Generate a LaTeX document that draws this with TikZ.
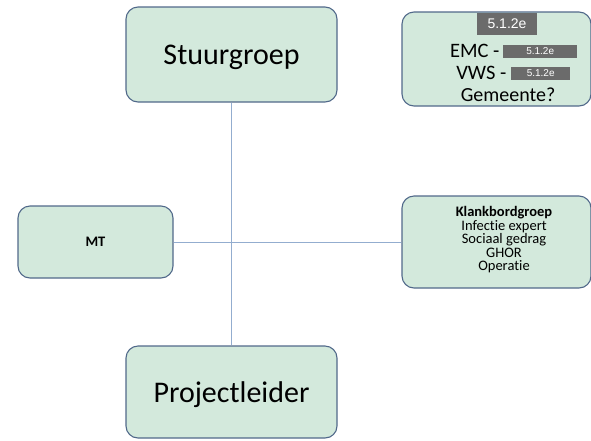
\documentclass[tikz,border=0pt]{standalone}
\usepackage{fontspec}
\setmainfont{Carlito}[Ligatures=NoCommon]
\newfontfamily\redactfont{Liberation Sans}
\usetikzlibrary{positioning}
\definecolor{boxfill}{HTML}{D3E9DC}
\definecolor{boxline}{HTML}{51698A}
\definecolor{linkline}{HTML}{93ADCF}
\definecolor{redact}{HTML}{6B6B6B}

\begin{document}
\begin{tikzpicture}[
    x=1pt, y=-1pt,
    orgbox/.style={
        draw=boxline, fill=boxfill, line width=1.1pt,
        rounded corners=12pt, inner sep=0pt
      },
    link/.style={draw=linkline, line width=0.7pt},
    redacted/.style={
        fill=redact, text=white, inner sep=0pt,
        font=\redactfont\fontsize{10}{10}\selectfont
      },
    member/.style={align=center, inner sep=0pt,
        font=\fontsize{14.5}{13.5}\selectfont}
  ]
  \useasboundingbox (0,0) rectangle (591,440);

  \node[orgbox, minimum width=211pt, minimum height=95pt, text depth=0pt,
    font=\fontsize{30}{30}\selectfont]
  (stuur) at (231.5,54.5) {Stuurgroep};

  \node[orgbox, minimum width=211pt, minimum height=92pt, text depth=0pt,
    font=\fontsize{30}{30}\selectfont]
  (project) at (231.5,392) {Projectleider};

  \node[orgbox, minimum width=155pt, minimum height=72pt,
    font=\bfseries\fontsize{14.5}{14.5}\selectfont]
  (mt) at (95.5,242) {MT};

  \node[orgbox, minimum width=189pt, minimum height=94pt]
  (partners) at (496.5,59) {};

  \node[orgbox, minimum width=189pt, minimum height=92pt]
  (klank) at (496.5,242) {};

  % lijnen
  \draw[link] (stuur) -- (project);
  \draw[link] (mt) -- (klank);

  % stuurgroep-leden
  \node[redacted, minimum width=60pt, minimum height=22pt,
    font=\redactfont\fontsize{14}{14}\selectfont]
  (red1) at (507,24) {5.1.2e};
  \node[font=\fontsize{20.5}{20.5}\selectfont, anchor=east]
  (emc) at (503,51) {EMC -};
  \node[redacted, minimum width=74pt, minimum height=13pt, right=0pt of emc]
  (red2) {5.1.2e};
  \node[font=\fontsize{20.5}{20.5}\selectfont, anchor=east]
  (vws) at (510,73) {VWS -};
  \node[redacted, minimum width=59pt, minimum height=13pt, right=1pt of vws]
  (red3) {5.1.2e};
  \node[font=\fontsize{20}{20}\selectfont]
  (gemeente) at (508,95) {Gemeente?};

  % klankbordgroep
  \node[member] (leden) at (504,240)
  {\textbf{Klankbordgroep}\\ Infectie expert\\ Sociaal gedrag\\ GHOR\\ Operatie};
\end{tikzpicture}
\end{document}
